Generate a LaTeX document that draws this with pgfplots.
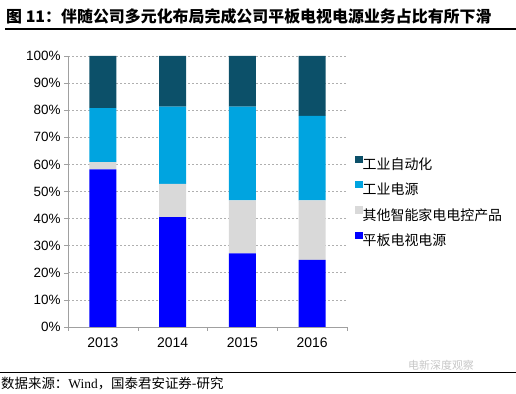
\documentclass[border=0pt]{standalone}
\usepackage{fontspec}
\setmainfont{Liberation Sans}
\newfontfamily\cjk{Noto Sans CJK SC}
\newfontfamily\serifen{Liberation Serif}
\usepackage{pgfplots}
\pgfplotsset{compat=1.18}
\definecolor{cAuto}{RGB}{12,80,105}
\definecolor{cInd}{RGB}{0,164,224}
\definecolor{cOther}{RGB}{217,217,217}
\definecolor{cTV}{RGB}{0,0,255}
\definecolor{cGrid}{RGB}{175,175,175}
\definecolor{cAxis}{RGB}{160,160,160}
\begin{document}
\begin{tikzpicture}
\path[use as bounding box] (0bp,0bp) rectangle (516bp,394bp);
% title
\node[anchor=west,inner sep=0pt] at (6bp,378bp) {\cjk\bfseries\fontsize{16}{16}\selectfont 图 11：伴随公司多元化布局完成公司平板电视电源业务占比有所下滑};
\draw[line width=1.3bp] (5bp,365bp) -- (516bp,365bp);
% footer
\draw[line width=0.9bp] (0bp,22bp) -- (516bp,22bp);
\node[anchor=west,inner sep=0pt] at (1bp,10bp) {\cjk\fontsize{13.5}{13.5}\selectfont 数据来源：{\serifen Wind}，国泰君安证券-研究};
\node[anchor=west,inner sep=0pt,text=gray!45] at (408bp,29bp) {\cjk\fontsize{11}{11}\selectfont 电新深度观察};
\begin{axis}[
  at={(68bp,67bp)}, anchor=south west,
  scale only axis, width=279bp, height=271bp,
  ybar stacked, bar width=27bp,
  xmin=-0.5, xmax=3.5, ymin=0, ymax=100,
  xtick={0,1,2,3}, xticklabels={2013,2014,2015,2016},
  major x tick style={draw=none},
  minor xtick={-0.5,0.5,1.5,2.5,3.5},
  ytick={0,10,...,100},
  yticklabel={\pgfmathprintnumber{\tick}\%},
  /pgf/number format/assume math mode=true,
  axis x line*=bottom, axis y line*=left,
  axis line style={draw=cAxis,-},
  tick align=outside,
  major tick length=4bp, minor tick length=4bp,
  every tick/.style={draw=cAxis},
  ymajorgrids,
  major grid style={draw=cGrid, dash pattern=on 2bp off 2bp, line width=0.6bp},
  xticklabel style={font=\fontsize{14}{14}\selectfont, yshift=-3bp},
  yticklabel style={font=\fontsize{13.5}{13.5}\selectfont},
  legend style={draw=none, fill=none, at={(1,0.462)}, anchor=west, xshift=5bp,
    font=\cjk\fontsize{14}{14}\selectfont, row sep=9bp,
    nodes={inner ysep=1bp, inner xsep=0bp}},
  legend cell align=left,
  reverse legend,
  legend image code/.code={\fill[#1] (0bp,1.2bp) rectangle (7.5bp,8.7bp);},
]
\addplot[fill=cTV, draw=none] coordinates {(0,58.2) (1,40.5) (2,27.2) (3,24.8)};
\addlegendentry{平板电视电源}
\addplot[fill=cOther, draw=none] coordinates {(0,2.6) (1,12.3) (2,19.5) (3,21.9)};
\addlegendentry{其他智能家电电控产品}
\addplot[fill=cInd, draw=none] coordinates {(0,20.0) (1,28.5) (2,34.6) (3,31.2)};
\addlegendentry{工业电源}
\addplot[fill=cAuto, draw=none] coordinates {(0,19.2) (1,18.7) (2,18.7) (3,22.1)};
\addlegendentry{工业自动化}
\end{axis}
\end{tikzpicture}
\end{document}
